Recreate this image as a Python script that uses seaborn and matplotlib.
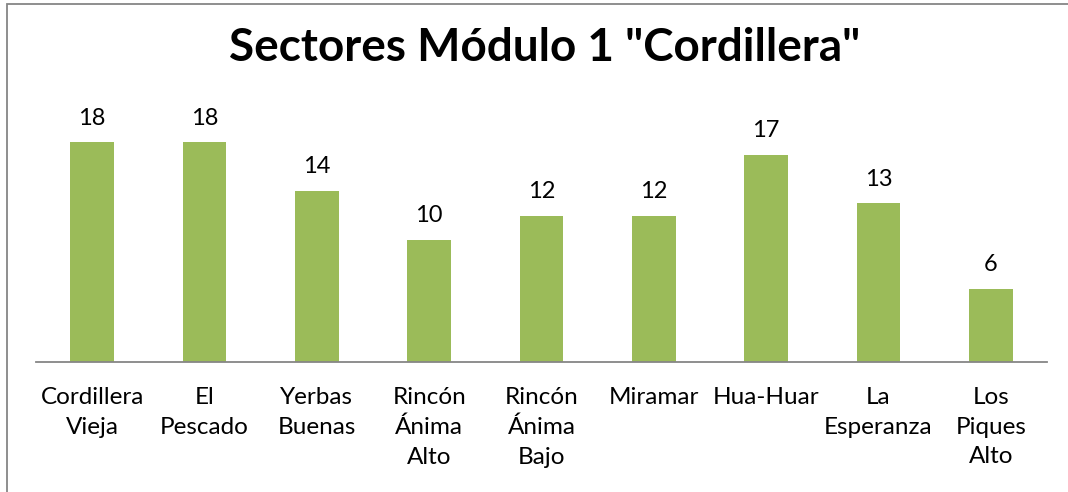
import pandas as pd
import seaborn as sns
import matplotlib.pyplot as plt
from matplotlib.patches import Rectangle

sectores = ['Cordillera\nVieja', 'El\nPescado', 'Yerbas\nBuenas', 'Rincón\nÁnima\nAlto',
            'Rincón\nÁnima\nBajo', 'Miramar', 'Hua-Huar', 'La\nEsperanza', 'Los\nPiques\nAlto']
cantidad = [18, 18, 14, 10, 12, 12, 17, 13, 6]

df = pd.DataFrame({'sector': sectores, 'cantidad': cantidad})

sns.set_style('white')
plt.rcParams['font.family'] = ['Lato', 'DejaVu Sans']
plt.rcParams['text.color'] = 'black'

fig = plt.figure(figsize=(10.68, 4.92), dpi=100)
ax = fig.add_axes([36/1068, 130/492, 1011/1068, 244/492])

sns.barplot(data=df, x='sector', y='cantidad', color='#9BBB59', width=0.39,
            saturation=1, linewidth=0, ax=ax)

ax.set_ylim(0, 20)
ax.set_xlim(-0.5, len(sectores) - 0.5)
ax.set_xlabel('')
ax.set_ylabel('')
ax.set_yticks([])
for s in ['top', 'right', 'left']:
    ax.spines[s].set_visible(False)
ax.spines['bottom'].set_color('#868686')
ax.spines['bottom'].set_linewidth(1.3)
ax.tick_params(axis='x', length=0, pad=18, labelsize=17.5, colors='black')
for lab in ax.get_xticklabels():
    lab.set_linespacing(1.5)
    lab.set_verticalalignment('top')

for c in ax.containers:
    ax.bar_label(c, padding=10, fontsize=17, color='black')

fig.text(0.51, 0.903, 'Sectores Módulo 1 "Cordillera"', ha='center', va='center',
         fontsize=33, fontweight='bold', color='black')

# marco del gráfico (cortado a la derecha y abajo)
fig.patches.append(Rectangle((7/1068, -0.1), 1.2, 1 - 4/492 + 0.1, transform=fig.transFigure,
                             fill=False, edgecolor='#868686', linewidth=1.3))

plt.savefig('out.png', dpi=100)
